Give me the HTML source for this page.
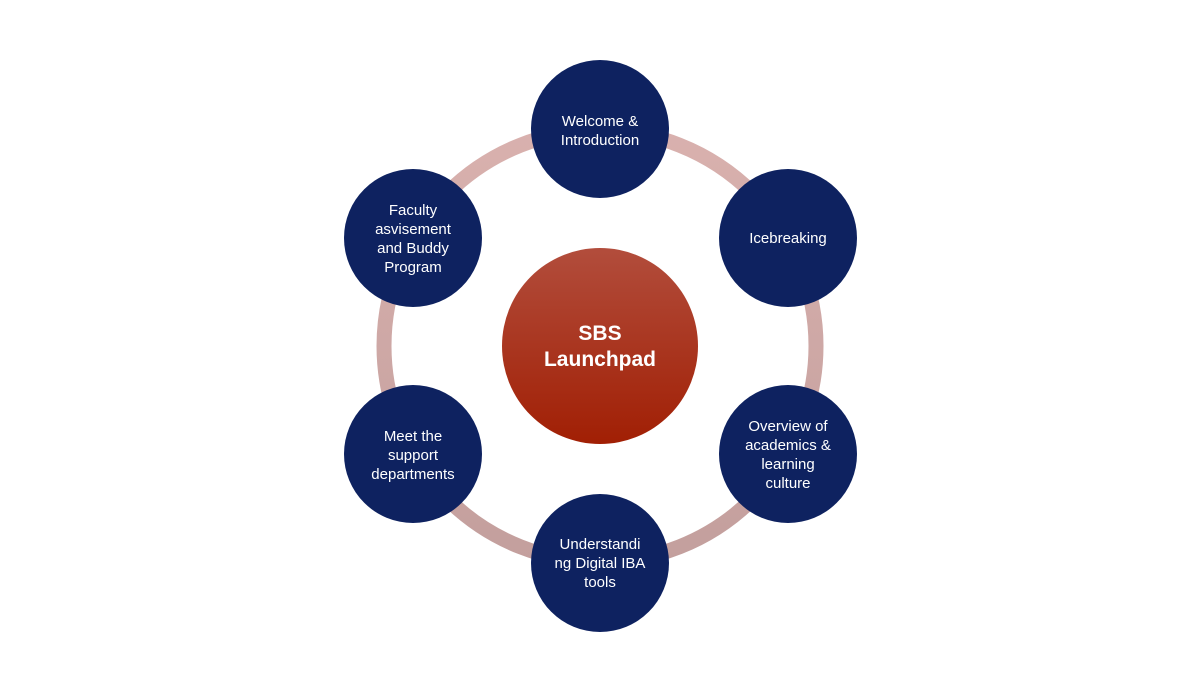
<!DOCTYPE html>
<html><head><meta charset="utf-8"><style>
html,body{margin:0;padding:0;background:#fff;width:1200px;height:700px;overflow:hidden}
svg text{font-family:"Liberation Sans",sans-serif;fill:#fff;text-anchor:middle}
</style></head><body>
<svg width="1200" height="700" viewBox="0 0 1200 700">
<defs>
<linearGradient id="ring" x1="0" y1="0" x2="0" y2="1">
<stop offset="0" stop-color="#d9b1ae"/><stop offset="1" stop-color="#c39f9d"/></linearGradient>
<linearGradient id="ctr" x1="0" y1="0" x2="0" y2="1">
<stop offset="0" stop-color="#b24d3c"/><stop offset="1" stop-color="#a11f04"/></linearGradient>
</defs>
<circle cx="600" cy="346" r="216" fill="none" stroke="url(#ring)" stroke-width="15"/>
<circle cx="600" cy="346" r="98" fill="url(#ctr)"/>
<text x="600" y="340" font-size="21" font-weight="bold">SBS</text>
<text x="600" y="366" font-size="21" font-weight="bold">Launchpad</text>
<g fill="#0e2260">
<circle cx="600" cy="129" r="69"/>
<circle cx="788" cy="238" r="69"/>
<circle cx="788" cy="454" r="69"/>
<circle cx="600" cy="563" r="69"/>
<circle cx="413" cy="454" r="69"/>
<circle cx="413" cy="238" r="69"/>
</g>
<g font-size="15">
<text x="600" y="126">Welcome &amp;</text>
<text x="600" y="145">Introduction</text>
<text x="788" y="243">Icebreaking</text>
<text x="788" y="431">Overview of</text>
<text x="788" y="450">academics &amp;</text>
<text x="788" y="469">learning</text>
<text x="788" y="488">culture</text>
<text x="600" y="549">Understandi</text>
<text x="600" y="568">ng Digital IBA</text>
<text x="600" y="587">tools</text>
<text x="413" y="441">Meet the</text>
<text x="413" y="460">support</text>
<text x="413" y="479">departments</text>
<text x="413" y="215">Faculty</text>
<text x="413" y="234">asvisement</text>
<text x="413" y="253">and Buddy</text>
<text x="413" y="272">Program</text>
</g>
</svg>
</body></html>
